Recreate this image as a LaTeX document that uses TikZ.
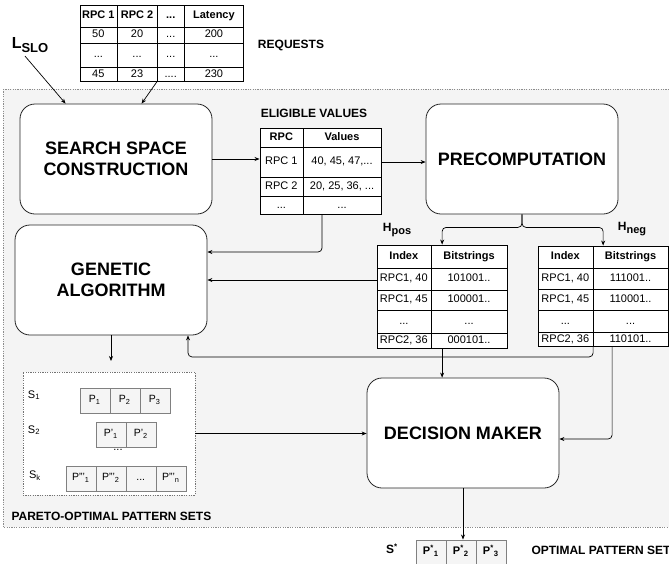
\documentclass[tikz,border=0pt]{standalone}
\usepackage{fontspec}
\setmainfont{Liberation Sans}
\usetikzlibrary{matrix,arrows.meta,positioning}

\definecolor{bggray}{HTML}{F4F4F4}
\newcommand{\tabfont}{\fontsize{11}{13}\selectfont}
\newcommand{\blockfont}{\fontsize{18}{21}\selectfont\bfseries}
\newcommand{\labelfont}{\fontsize{12}{14}\selectfont\bfseries}

\tikzset{
  datatable/.style={matrix of nodes, nodes in empty cells,
    column sep=-\pgflinewidth, row sep=-\pgflinewidth,
    nodes={draw, line width=0.6pt, fill=white, inner sep=0pt, anchor=center,
      text height=8pt, text depth=2.5pt, font=\tabfont},
    row 1/.style={nodes={font=\tabfont\bfseries}}},
  patternrow/.style={matrix of nodes, column sep=-\pgflinewidth,
    nodes={draw=black!50, fill=black!4, inner sep=0pt, anchor=center,
      minimum width=30pt, minimum height=25pt, text height=8pt, text depth=2.5pt,
      font=\fontsize{10.5}{12}\selectfont}}
}

\begin{document}
\begin{tikzpicture}[x=1pt, y=-1pt, >={Stealth[length=5pt,width=4pt]},
  block/.style={draw=black!85, line width=0.8pt, fill=white, rounded corners=15pt,
    minimum width=192pt, minimum height=110pt, align=center, font=\blockfont},
  title/.style={font=\labelfont},
  setlbl/.style={font=\fontsize{11}{13}\selectfont},
  conn/.style={->, line width=0.7pt, rounded corners=4pt}
  ]
  \useasboundingbox (0,0) rectangle (669,563);

  % background area
  \draw[black!45, dash pattern=on 1.2pt off 1.2pt, fill=bggray] (3,89) rectangle (690,527);

  % Define nodes
  \node[title] (lslo) at (30,45) {\fontsize{16}{16}\selectfont L\raisebox{-4pt}{\fontsize{13}{13}\selectfont SLO}};
  \matrix (req) [datatable, matrix anchor=north west,
    column 1/.style={nodes={minimum width=37pt}},
    column 2/.style={nodes={minimum width=40pt}},
    column 3/.style={nodes={minimum width=27pt}},
    column 4/.style={nodes={minimum width=59pt}},
    row 1/.style={nodes={minimum height=22pt, font=\tabfont\bfseries}},
    row 2/.style={nodes={minimum height=16pt}},
    row 3/.style={nodes={minimum height=24pt}},
    row 4/.style={nodes={minimum height=14pt}}] at (76,1) {
    RPC 1 & RPC 2 & ... & Latency \\
    50 & 20 & ... & 200 \\
    ... & ... & ... & ... \\
    45 & 23 & .... & 230 \\
  };
  \node[title] (reqlbl) at (291,45) {REQUESTS};

  \node[block] (ss) at (116,159) {SEARCH SPACE\\CONSTRUCTION};
  \node[block] (ga) at (111,280) {GENETIC\\ALGORITHM};
  \node[block] (pre) at (522,159) {PRECOMPUTATION};
  \node[block] (dm) at (463,433) {DECISION MAKER};

  \node[title] (evlbl) at (314,113) {ELIGIBLE VALUES};
  \matrix (ev) [datatable, matrix anchor=north west,
    column 1/.style={nodes={minimum width=43pt}},
    column 2/.style={nodes={minimum width=78pt}},
    row 1/.style={nodes={minimum height=19pt, font=\tabfont\bfseries}},
    row 2/.style={nodes={minimum height=30pt}},
    row 3/.style={nodes={minimum height=19pt}},
    row 4/.style={nodes={minimum height=18pt}}] at (256,124) {
    RPC & Values \\
    RPC 1 & 40, 45, 47,... \\
    RPC 2 & 20, 25, 36, ... \\
    ... & ... \\
  };

  \node[title] (hposlbl) at (397,230) {\fontsize{12}{12}\selectfont H\raisebox{-3pt}{\fontsize{11}{11}\selectfont pos}};
  \matrix (hp) [datatable, matrix anchor=north west,
    column 1/.style={nodes={minimum width=54pt}},
    column 2/.style={nodes={minimum width=76pt}},
    row 1/.style={nodes={minimum height=23pt, font=\tabfont\bfseries}},
    row 2/.style={nodes={minimum height=22pt}},
    row 3/.style={nodes={minimum height=20pt}},
    row 4/.style={nodes={minimum height=23pt}},
    row 5/.style={nodes={minimum height=15pt}}] at (373,241) {
    Index & Bitstrings \\
    RPC1, 40 & 101001.. \\
    RPC1, 45 & 100001.. \\
    ... & ... \\
    RPC2, 36 & 000101.. \\
  };

  \node[title] (hneglbl) at (632,229) {\fontsize{12}{12}\selectfont H\raisebox{-3pt}{\fontsize{11}{11}\selectfont neg}};
  \matrix (hn) [datatable, matrix anchor=north west,
    column 1/.style={nodes={minimum width=55pt}},
    column 2/.style={nodes={minimum width=75pt}},
    row 1/.style={nodes={minimum height=22pt, font=\tabfont\bfseries}},
    row 2/.style={nodes={minimum height=21pt}},
    row 3/.style={nodes={minimum height=21pt}},
    row 4/.style={nodes={minimum height=22pt}},
    row 5/.style={nodes={minimum height=14pt}}] at (534,242) {
    Index & Bitstrings \\
    RPC1, 40 & 111001.. \\
    RPC1, 45 & 110001.. \\
    ... & ... \\
    RPC2, 36 & 110101.. \\
  };

  % pareto-optimal sets
  \node[draw=black!55, dash pattern=on 1.2pt off 1.2pt, fill=white,
    minimum width=172pt, minimum height=123pt] (par) at (109,433.5) {};
  \node[setlbl] (s1lbl) at (34,395) {S\textsubscript{1}};
  \matrix (s1) [patternrow, matrix anchor=north west] at (76,384) {
    P\textsubscript{1} & P\textsubscript{2} & P\textsubscript{3} \\
  };
  \node[setlbl] (s2lbl) at (34,430) {S\textsubscript{2}};
  \matrix (s2) [patternrow, matrix anchor=north west] at (92,418) {
    P'\textsubscript{1} & P'\textsubscript{2} \\
  };
  \node[setlbl] (sdots) at (118,450) {...};
  \node[setlbl] (sklbl) at (35,476) {S\textsubscript{k}};
  \matrix (sk) [patternrow, matrix anchor=north west] at (62,462) {
    P'''\textsubscript{1} & P'''\textsubscript{2} & ... & P'''\textsubscript{n} \\
  };
  \node[title, anchor=west] (parlbl) at (8,516) {PARETO-OPTIMAL PATTERN SETS};

  % optimal set
  \node[title] (soptlbl) at (392,549) {S\textsuperscript{*}};
  \matrix (sopt) [patternrow, matrix anchor=north west,
    nodes={minimum height=24pt, font=\tabfont\bfseries}] at (412,536) {
    P\textsuperscript{*}\textsubscript{1} & P\textsuperscript{*}\textsubscript{2} & P\textsuperscript{*}\textsubscript{3} \\
  };
  \node[title, anchor=west] (optlbl) at (528,550) {OPTIMAL PATTERN SET};

  \coordinate (gaout) at (111,361);

  % Draw arrows
  \draw[conn] ([xshift=-5pt]lslo.south) -- ([xshift=46pt]ss.north west);
  \draw[conn] (req-4-3.south west) -- ([xshift=122pt]ss.north west);
  \draw[conn] (ss.east) -- (ss.east -| ev-2-1.west);
  \draw[conn] (ev-2-2.east) -- (ev-2-2.east -| pre.west);
  \draw[conn] (pre.south) -- ++(0,13) -| ([xshift=11pt]hp-1-1.north east);
  \draw[conn] (pre.south) -- ++(0,13) -| ([xshift=10pt]hn-1-1.north east);
  \draw[conn] ([xshift=-20pt]ev-4-2.south) |- ([yshift=28pt]ga.east);
  \draw[conn] (hp-2-1.west |- ga.east) -- (ga.east);
  \draw[conn] (hn-5-1.south east) -- ++(0,10) -| ([xshift=77pt]ga.south);
  \draw[conn] ([xshift=11pt]hp-5-1.south east) -- ([xshift=11pt]hp-5-1.south east |- dm.north);
  \draw[conn] ([xshift=19pt]hn-5-1.south east) |- ([yshift=-6pt]dm.east);
  \draw[conn] (ga.south) -- (gaout);
  \draw[conn] (par.east) -- (par.east -| dm.west);
  \draw[conn] (dm.south) -- (dm.south |- sopt-1-2.north);
\end{tikzpicture}
\end{document}
